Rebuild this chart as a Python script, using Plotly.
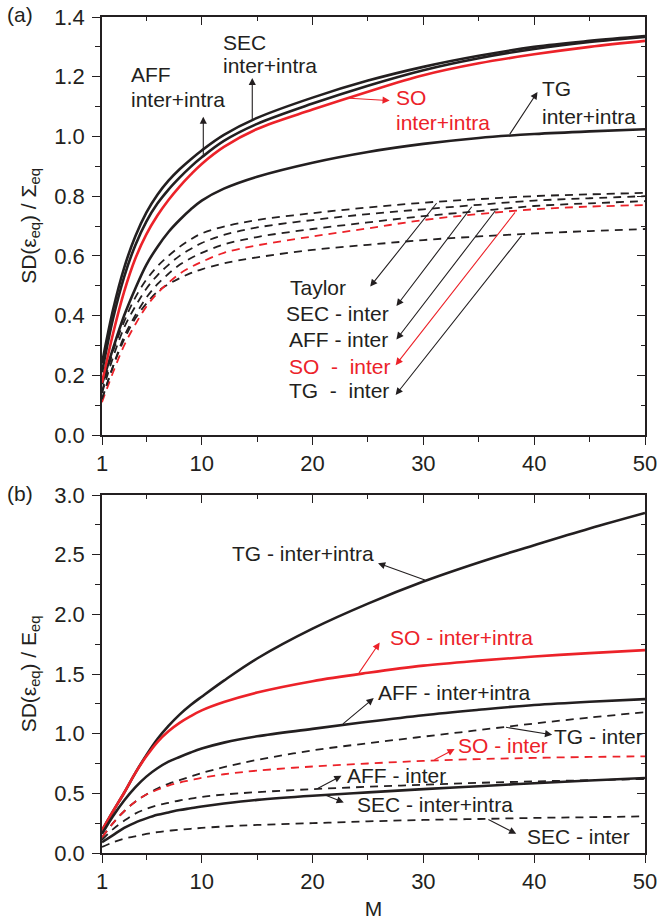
import numpy as np
import plotly.graph_objects as go

# ---------------- data ----------------
M = [1, 2, 3, 4, 5, 6, 7, 8, 9, 10, 12, 15, 20, 25, 30, 35, 40, 45, 50]

# panel (a): SD(eps_eq)/Sigma_eq
sec_ii_a = [0.24, 0.42, 0.56, 0.665, 0.745, 0.805, 0.852, 0.89, 0.923, 0.953, 1.005, 1.062, 1.13, 1.187, 1.233, 1.27, 1.30, 1.32, 1.336]
aff_ii_a = [0.21, 0.39, 0.53, 0.635, 0.715, 0.775, 0.822, 0.862, 0.898, 0.93, 0.985, 1.042, 1.11, 1.17, 1.222, 1.262, 1.293, 1.316, 1.333]
so_ii_a = [0.175, 0.34, 0.48, 0.59, 0.672, 0.735, 0.787, 0.832, 0.872, 0.908, 0.965, 1.025, 1.09, 1.15, 1.205, 1.245, 1.275, 1.30, 1.32]
tg_ii_a = [0.17, 0.29, 0.40, 0.49, 0.57, 0.63, 0.68, 0.72, 0.755, 0.785, 0.825, 0.865, 0.912, 0.948, 0.975, 0.995, 1.008, 1.017, 1.024]
taylor_a = [0.145, 0.28, 0.38, 0.46, 0.52, 0.565, 0.60, 0.63, 0.655, 0.675, 0.698, 0.72, 0.743, 0.762, 0.778, 0.79, 0.80, 0.806, 0.811]
sec_i_a = [0.14, 0.26, 0.36, 0.43, 0.49, 0.535, 0.57, 0.60, 0.623, 0.643, 0.67, 0.695, 0.72, 0.74, 0.756, 0.771, 0.785, 0.793, 0.80]
aff_i_a = [0.12, 0.23, 0.33, 0.40, 0.46, 0.505, 0.54, 0.57, 0.592, 0.61, 0.638, 0.663, 0.69, 0.712, 0.733, 0.75, 0.767, 0.776, 0.783]
so_i_a = [0.11, 0.21, 0.30, 0.37, 0.43, 0.475, 0.51, 0.54, 0.562, 0.58, 0.61, 0.635, 0.665, 0.692, 0.72, 0.74, 0.756, 0.765, 0.77]
tg_i_a = [0.12, 0.23, 0.32, 0.39, 0.44, 0.48, 0.505, 0.525, 0.542, 0.555, 0.575, 0.595, 0.62, 0.637, 0.653, 0.665, 0.675, 0.683, 0.69]

# panel (b): SD(eps_eq)/E_eq
tg_ii_b = [0.19, 0.35, 0.505, 0.67, 0.82, 0.955, 1.065, 1.16, 1.24, 1.31, 1.445, 1.63, 1.88, 2.09, 2.275, 2.435, 2.58, 2.72, 2.85]
so_ii_b = [0.19, 0.35, 0.505, 0.67, 0.81, 0.93, 1.02, 1.09, 1.147, 1.195, 1.265, 1.345, 1.44, 1.51, 1.57, 1.612, 1.647, 1.675, 1.70]
aff_ii_b = [0.16, 0.31, 0.44, 0.55, 0.64, 0.71, 0.765, 0.805, 0.842, 0.875, 0.925, 0.978, 1.04, 1.10, 1.155, 1.20, 1.24, 1.268, 1.29]
tg_i_b = [0.13, 0.25, 0.35, 0.43, 0.49, 0.54, 0.58, 0.61, 0.64, 0.67, 0.72, 0.78, 0.86, 0.92, 0.975, 1.03, 1.085, 1.135, 1.18]
so_i_b = [0.13, 0.25, 0.35, 0.43, 0.49, 0.53, 0.565, 0.59, 0.61, 0.63, 0.66, 0.69, 0.725, 0.75, 0.772, 0.787, 0.797, 0.805, 0.81]
aff_i_b = [0.11, 0.20, 0.27, 0.33, 0.37, 0.40, 0.42, 0.44, 0.455, 0.47, 0.49, 0.51, 0.535, 0.555, 0.572, 0.588, 0.60, 0.61, 0.62]
sec_ii_b = [0.09, 0.15, 0.21, 0.255, 0.29, 0.32, 0.34, 0.36, 0.375, 0.39, 0.415, 0.445, 0.48, 0.508, 0.535, 0.56, 0.585, 0.607, 0.628]
sec_i_b = [0.05, 0.09, 0.12, 0.14, 0.16, 0.175, 0.186, 0.195, 0.203, 0.21, 0.222, 0.235, 0.25, 0.265, 0.277, 0.285, 0.294, 0.30, 0.307]

x_ticks = [1, 10, 20, 30, 40, 50]
x_minor = [5, 15, 25, 35, 45]

BLACK = "#231f20"
RED = "#ec2229"
FONT = "Liberation Sans, Arial, sans-serif"

fig = go.Figure()

def add(y, color, dash, xa, ya, width):
    fig.add_trace(go.Scatter(
        x=M, y=y, mode="lines", xaxis=xa, yaxis=ya, showlegend=False,
        line=dict(color=color, width=width, dash=dash, shape="spline", smoothing=1.0),
        hoverinfo="skip"))

DASH = "8px,6px"
# panel a
for s, c in [(tg_ii_a, BLACK), (so_ii_a, RED), (aff_ii_a, BLACK), (sec_ii_a, BLACK)]:
    add(s, c, "solid", "x", "y", 2.6)
for s, c in [(tg_i_a, BLACK), (so_i_a, RED), (aff_i_a, BLACK), (sec_i_a, BLACK), (taylor_a, BLACK)]:
    add(s, c, DASH, "x", "y", 1.8)
# panel b
for s, c in [(tg_ii_b, BLACK), (so_ii_b, RED), (aff_ii_b, BLACK), (sec_ii_b, BLACK)]:
    add(s, c, "solid", "x2", "y2", 2.6)
for s, c in [(tg_i_b, BLACK), (so_i_b, RED), (aff_i_b, BLACK), (sec_i_b, BLACK)]:
    add(s, c, DASH, "x2", "y2", 1.8)

# dummy traces for mirrored (inside) tick axes
for xa, ya in [("x3", "y"), ("x", "y3"), ("x4", "y2"), ("x2", "y4")]:
    fig.add_trace(go.Scatter(x=[None], y=[None], xaxis=xa, yaxis=ya, showlegend=False, hoverinfo="skip"))

tickfont = dict(family=FONT, size=22, color=BLACK)

def xaxis(domain_anchor, title=None):
    d = dict(range=[1, 50], tickvals=x_ticks, ticktext=[str(v) for v in x_ticks],
             ticks="outside", ticklen=8, tickwidth=1.3, tickcolor=BLACK,
             minor=dict(tickvals=x_minor, ticks="outside", ticklen=5, tickwidth=1.3, tickcolor=BLACK),
             showline=True, linecolor=BLACK, linewidth=1.5, showgrid=False, zeroline=False,
             tickfont=tickfont, anchor=domain_anchor, automargin=False)
    if title:
        d["title"] = dict(text=title, font=dict(family=FONT, size=21, color=BLACK), standoff=10)
    return d

def yaxis(rng, dtick, dom, anchor, title):
    return dict(range=rng, dtick=dtick, tick0=0, tickformat=".1f", domain=dom, anchor=anchor,
                ticks="outside", ticklen=8, tickwidth=1.3, tickcolor=BLACK, ticklabelstandoff=3,
                minor=dict(dtick=dtick / 2, tick0=0, ticks="outside", ticklen=5, tickwidth=1.3, tickcolor=BLACK),
                showline=True, linecolor=BLACK, linewidth=1.5, showgrid=False, zeroline=False,
                tickfont=tickfont, automargin=False,
                title=dict(text=title, font=dict(family=FONT, size=21, color=BLACK), standoff=12))

def mirror_x(over, anchor):
    return dict(overlaying=over, side="top", anchor=anchor, range=[1, 50], tickvals=x_ticks,
                showticklabels=False, ticks="inside", ticklen=8, tickwidth=1.3, tickcolor=BLACK,
                minor=dict(tickvals=x_minor, ticks="inside", ticklen=4, tickwidth=1.3, tickcolor=BLACK),
                showline=True, linecolor=BLACK, linewidth=1.5, showgrid=False, zeroline=False,
                automargin=False)

def mirror_y(over, anchor, rng, dtick):
    return dict(overlaying=over, side="right", anchor=anchor, range=rng, dtick=dtick, tick0=0,
                showticklabels=False, ticks="inside", ticklen=8, tickwidth=1.3, tickcolor=BLACK,
                minor=dict(dtick=dtick / 2, tick0=0, ticks="inside", ticklen=4, tickwidth=1.3, tickcolor=BLACK),
                showline=True, linecolor=BLACK, linewidth=1.5, showgrid=False, zeroline=False,
                automargin=False)

fig.update_layout(
    width=658, height=920, autosize=False,
    margin=dict(l=102, r=13, t=17, b=67, pad=0),
    paper_bgcolor="white", plot_bgcolor="white",
    xaxis=xaxis("y"),
    yaxis=yaxis([0, 1.4], 0.2, [0.5, 1.0], "x", "SD(ε<sub>eq</sub>) / Σ<sub>eq</sub>"),
    xaxis2=xaxis("y2", "M"),
    yaxis2=yaxis([0, 3.0], 0.5, [0.0, 0.4282], "x2", "SD(ε<sub>eq</sub>) / E<sub>eq</sub>"),
    xaxis3=mirror_x("x", "y"),
    yaxis3=mirror_y("y", "x", [0, 1.4], 0.2),
    xaxis4=mirror_x("x2", "y2"),
    yaxis4=mirror_y("y2", "x2", [0, 3.0], 0.5),
)

ann = []
TF = 21

def text(x, y, t, color, xr, yr):
    ann.append(dict(x=x, y=y, xref=xr, yref=yr, text=t, showarrow=False, xanchor="left",
                    yanchor="middle", align="left",
                    font=dict(family=FONT, size=TF, color=color)))

def arrow(series, tx, hx, hy, color, xr, yr):
    ty = float(np.interp(tx, M, series))
    ann.append(dict(x=hx, y=hy, ax=tx, ay=ty, xref=xr, yref=yr, axref=xr, ayref=yr,
                    text="", showarrow=True, arrowhead=2, arrowsize=1.3, arrowwidth=1.1,
                    arrowcolor=color, standoff=0, startstandoff=0))

NB = "\u00a0"
# panel (a)
text(3.4, 1.209, "AFF", BLACK, "x", "y")
text(3.4, 1.125, "inter+intra", BLACK, "x", "y")
arrow(aff_ii_a, 10.14, 10.14, 1.066, BLACK, "x", "y")
text(11.75, 1.316, "SEC", BLACK, "x", "y")
text(11.75, 1.239, "inter+intra", BLACK, "x", "y")
arrow(sec_ii_a, 14.56, 14.56, 1.196, BLACK, "x", "y")
text(27.35, 1.129, "SO", RED, "x", "y")
text(27.35, 1.045, "inter+intra", RED, "x", "y")
arrow(so_ii_a, 23.2, 26.96, 1.12, RED, "x", "y")
text(40.55, 1.159, "TG", BLACK, "x", "y")
text(40.55, 1.068, "inter+intra", BLACK, "x", "y")
arrow(tg_ii_a, 37.7, 40.3, 1.149, BLACK, "x", "y")

text(17.8, 0.495, "Taylor", BLACK, "x", "y")
text(17.45, 0.408, "SEC - inter", BLACK, "x", "y")
text(17.7, 0.320, "AFF - inter", BLACK, "x", "y")
text(17.7, 0.229, "SO" + NB + " -" + NB + " inter", RED, "x", "y")
text(17.7, 0.148, "TG" + NB + " -" + NB + " inter", BLACK, "x", "y")
arrow(taylor_a, 31.3, 25.2, 0.497, BLACK, "x", "y")
arrow(sec_i_a, 34.47, 27.57, 0.432, BLACK, "x", "y")
arrow(aff_i_a, 36.58, 27.57, 0.320, BLACK, "x", "y")
arrow(so_i_a, 38.38, 27.5, 0.234, RED, "x", "y")
arrow(tg_i_a, 38.97, 27.5, 0.134, BLACK, "x", "y")

# panel (b)
text(12.55, 2.507, "TG - inter+intra", BLACK, "x2", "y2")
arrow(tg_ii_b, 30.27, 25.91, 2.429, BLACK, "x2", "y2")
text(26.78, 1.809, "SO - inter+intra", RED, "x2", "y2")
arrow(so_ii_b, 24.1, 26.06, 1.764, RED, "x2", "y2")
text(25.77, 1.345, "AFF - inter+intra", BLACK, "x2", "y2")
arrow(aff_ii_b, 22.61, 25.52, 1.298, BLACK, "x2", "y2")
text(41.65, 0.977, "TG - inter", BLACK, "x2", "y2")
arrow(tg_i_b, 37.32, 41.62, 0.991, BLACK, "x2", "y2")
text(32.97, 0.899, "SO - inter", RED, "x2", "y2")
arrow(so_i_b, 30.86, 32.82, 0.871, RED, "x2", "y2")
text(22.91, 0.653, "AFF - inter", BLACK, "x2", "y2")
arrow(aff_i_b, 20.36, 22.61, 0.647, BLACK, "x2", "y2")
text(23.81, 0.405, "SEC - inter+intra", BLACK, "x2", "y2")
arrow(sec_ii_b, 21.11, 22.82, 0.424, BLACK, "x2", "y2")
text(39.13, 0.139, "SEC - inter", BLACK, "x2", "y2")
arrow(sec_i_b, 35.73, 38.38, 0.162, BLACK, "x2", "y2")

# panel letters (paper coords relative to plot area: l=102, w=543, b=853, h=836)
ann.append(dict(x=(20 - 102) / 543, y=(853 - 15) / 836, xref="paper", yref="paper", text="(a)",
                showarrow=False, xanchor="center", yanchor="middle",
                font=dict(family=FONT, size=21, color=BLACK)))
ann.append(dict(x=(20 - 102) / 543, y=(853 - 493) / 836, xref="paper", yref="paper", text="(b)",
                showarrow=False, xanchor="center", yanchor="middle",
                font=dict(family=FONT, size=21, color=BLACK)))

fig.update_layout(annotations=ann)
fig.write_html("out.html")
